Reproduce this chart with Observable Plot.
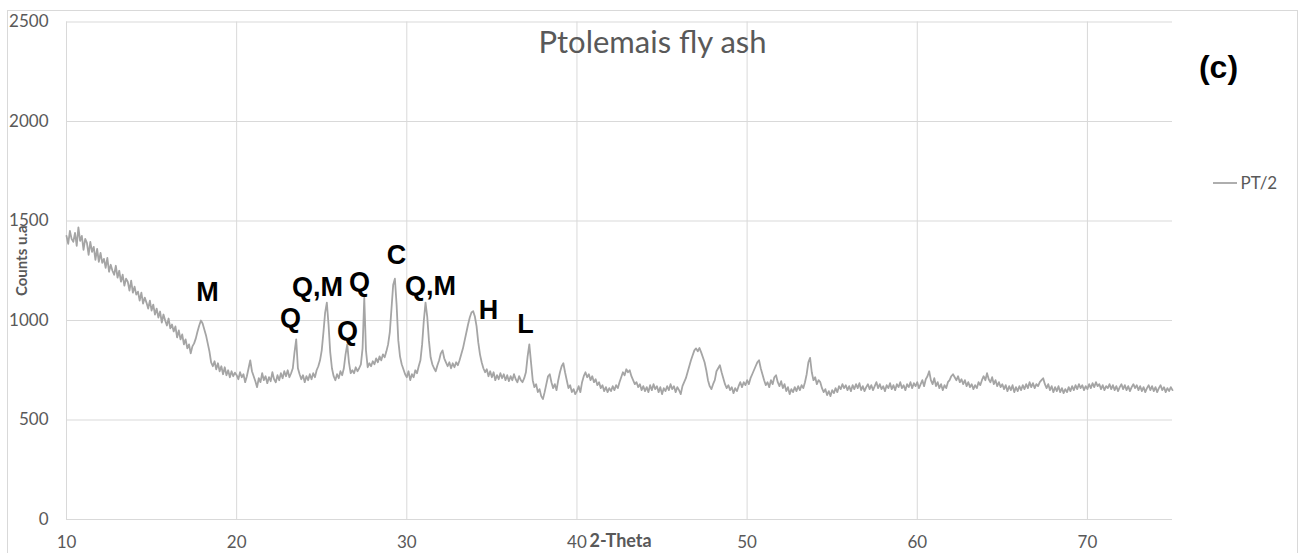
<!DOCTYPE html>
<html>
<head>
<meta charset="utf-8">
<script src="https://cdn.jsdelivr.net/npm/d3@7"></script>
<script src="https://cdn.jsdelivr.net/npm/@observablehq/plot@0.6"></script>
<style>
  html, body { margin: 0; padding: 0; background: #fff; }
  #wrap { position: relative; width: 1305px; height: 553px; overflow: hidden; }
  #border { position: absolute; left: 7px; top: 10px; width: 1289px; height: 600px; border: 1px solid #d9d9d9; }
  #chart { position: absolute; left: 0; top: 0; }
</style>
</head>
<body>
<div id="wrap"><div id="border"></div><div id="chart"></div></div>
<script>
// ---- Data ----
const chartTitle = "Ptolemais fly ash";
const panelTag = "(c)";
const seriesName = "PT/2";
const xTitle = "2-Theta";
const yTitle = "Counts u.a";
const xTicks = [10, 20, 30, 40, 50, 60, 70];
const yTicks = [0, 500, 1000, 1500, 2000, 2500];

const peakLabels = ["M", "Q", "Q,M", "Q", "Q", "C", "Q,M", "H", "L"];
const peakTheta  = [18.29, 23.16, 24.75, 26.51, 27.22, 29.39, 31.39, 34.80, 36.98];
const peakCounts = [1141, 1010, 1166, 945, 1191, 1327, 1171, 1050, 980];

const thetaStep = 0.1;
const counts10 = [1425,1385,1450,1410,1395,1440,1375,1468,1400,1425,
  1355,1410,1390,1330,1395,1345,1370,1305,1360,1295,
  1340,1290,1310,1265,1315,1245,1280,1250,1230,1275,
  1215,1250,1195,1230,1175,1210,1195,1150,1200,1140,
  1170,1130,1145,1100,1140,1085,1115,1090,1060,1100,
  1050,1080,1030,1060,1015,1045,990,1030,1000,975,
  1010,960,980,945,970,915,950,905,930,880,
  905,860,880,835,870,885,910,945,975,1000,
  985,955,925,885,845,790,770,795,755,785,
  745,770,730,765,725,750,715,745,720,738];
const counts20 = [725,705,740,715,730,690,720,760,800,745,
  720,695,665,710,690,735,700,720,685,715,
  695,740,705,690,725,700,735,710,745,720,
  750,715,735,760,840,905,760,730,705,725,
  690,720,700,730,705,735,715,750,770,800,
  850,940,1040,1090,980,840,760,720,700,730,
  710,745,725,760,830,880,790,735,750,735,
  765,745,760,780,860,1115,850,765,785,770,
  795,780,810,790,820,800,830,815,845,880,
  940,1060,1180,1210,1080,900,820,780,755,730];
const counts30 = [715,745,700,730,715,750,735,770,800,880,
  1000,1090,1020,900,815,780,760,745,775,800,
  835,850,810,790,770,790,760,785,765,790,
  775,800,830,860,900,940,980,1015,1040,1047,
  1020,970,890,830,790,760,740,755,720,745,
  715,740,700,725,705,735,710,730,700,725,
  695,720,700,730,705,690,720,700,690,710,
  740,820,880,790,700,665,680,640,655,620,
  605,640,680,720,730,690,660,680,650,700,
  740,770,785,740,700,660,675,640,655,630];
const counts40 = [645,670,640,690,720,740,715,730,700,720,
  690,705,675,690,660,675,645,665,640,660,
  645,670,650,675,660,690,715,740,725,755,
  740,750,720,700,680,690,665,680,650,670,
  645,665,640,675,650,680,655,670,640,665,
  630,660,645,670,650,680,655,670,640,665,
  650,630,670,690,710,740,770,800,825,850,
  860,845,862,840,815,790,750,700,670,655,
  680,700,745,760,775,740,710,680,660,675,
  650,665,635,660,645,670,690,665,690,675];
const counts50 = [700,680,710,730,750,770,790,800,760,730,
  700,675,690,665,700,680,715,725,690,670,
  695,660,680,645,665,630,655,640,665,645,
  670,650,675,660,690,730,790,812,740,700,
  715,680,700,690,660,640,655,625,645,620,
  650,635,660,640,670,655,680,660,675,650,
  670,645,675,655,680,660,685,650,670,645,
  665,680,655,675,650,670,690,660,680,655,
  670,645,675,660,685,655,675,650,680,665,
  690,660,675,650,680,665,690,660,685,670];
const counts60 = [690,660,680,700,670,705,720,745,700,680,
  710,670,690,660,680,650,675,660,690,700,
  720,730,715,700,720,690,705,680,700,670,
  690,665,680,655,675,660,690,675,700,720,
  700,735,705,690,715,680,700,670,690,665,
  680,655,675,645,670,650,675,640,665,645,
  670,650,675,655,680,660,690,665,685,660,
  680,670,690,700,710,680,660,680,650,670,
  640,665,645,670,640,660,635,655,640,665,
  645,670,650,675,655,680,660,675,650,670];
const counts70 = [655,680,660,685,665,690,670,680,655,675,
  650,670,660,680,655,675,650,670,645,665,
  680,655,675,650,670,645,665,680,660,675,
  650,670,645,665,640,660,675,650,670,645,
  665,640,660,675,650,665,640,660,645,665,650];

const segmentStarts = [10, 20, 30, 40, 50, 60, 70];
const segmentCounts = [counts10, counts20, counts30, counts40, counts50, counts60, counts70];

const pattern = segmentStarts.flatMap((start, s) =>
  segmentCounts[s].map((c, i) => ({ theta: +(start + i * thetaStep).toFixed(2), counts: c })));
const peaks = peakLabels.map((t, i) => ({ label: t, theta: peakTheta[i], counts: peakCounts[i] }));

const gray = "#595959";
const grid = "#d9d9d9";
const lineColor = "#a5a5a5";
const arial = "'Liberation Sans', Arial, sans-serif";

const chart = Plot.plot({
  width: 1305,
  height: 553,
  marginLeft: 66,
  marginRight: 133,
  marginTop: 21.5,
  marginBottom: 34,
  style: { fontFamily: "Lato, sans-serif", fontSize: "17px", color: gray, background: "transparent" },
  x: { domain: [10, 75], label: null },
  y: { domain: [0, 2500], label: null },
  marks: [
    Plot.gridX(xTicks, { stroke: grid, strokeOpacity: 1, strokeWidth: 1 }),
    Plot.gridY(yTicks, { stroke: grid, strokeOpacity: 1, strokeWidth: 1 }),
    Plot.ruleY([0], { stroke: grid, strokeWidth: 1.2 }),
    Plot.line(pattern, { x: "theta", y: "counts", stroke: lineColor, strokeWidth: 1.8 }),
    Plot.axisX(xTicks, { tickSize: 0, tickPadding: 16, fontSize: 17, label: null, tickFormat: d => String(d) }),
    Plot.axisY(yTicks, { tickSize: 0, tickPadding: 18, fontSize: 17, label: null, tickFormat: d => String(d) }),
    Plot.text(peaks, { x: "theta", y: "counts", text: "label", fontFamily: arial,
      fontWeight: "bold", fontSize: 27, fill: "#000", lineAnchor: "middle" }),
    Plot.text([chartTitle], { frameAnchor: "top", dx: 33, dy: 21, fontSize: 31, fill: gray,
      textAnchor: "middle", lineAnchor: "middle" }),
    Plot.text([panelTag], { frameAnchor: "top-right", dx: 46, dy: 45.5, fontFamily: arial,
      fontWeight: "bold", fontSize: 32, fill: "#000", textAnchor: "middle", lineAnchor: "middle" }),
    Plot.text([yTitle], { frameAnchor: "left", dx: -44, dy: -10, rotate: -90, fontWeight: "bold", fontSize: 15,
      fill: gray, textAnchor: "middle", lineAnchor: "middle" }),
    Plot.text([xTitle], { frameAnchor: "bottom-left", dx: 523, dy: 22, textAnchor: "start", lineAnchor: "middle",
      fontWeight: "bold", fontSize: 18, fill: gray }),
    Plot.text([seriesName], { frameAnchor: "top-right", dx: 68, dy: 161.5, textAnchor: "start", lineAnchor: "middle",
      fontSize: 17, fill: gray })
  ]
});
// legend swatch line
d3.select(chart).append("line")
  .attr("x1", 1213).attr("x2", 1237).attr("y1", 183).attr("y2", 183)
  .attr("stroke", lineColor).attr("stroke-width", 1.8);
document.getElementById("chart").appendChild(chart);
</script>
</body>
</html>
